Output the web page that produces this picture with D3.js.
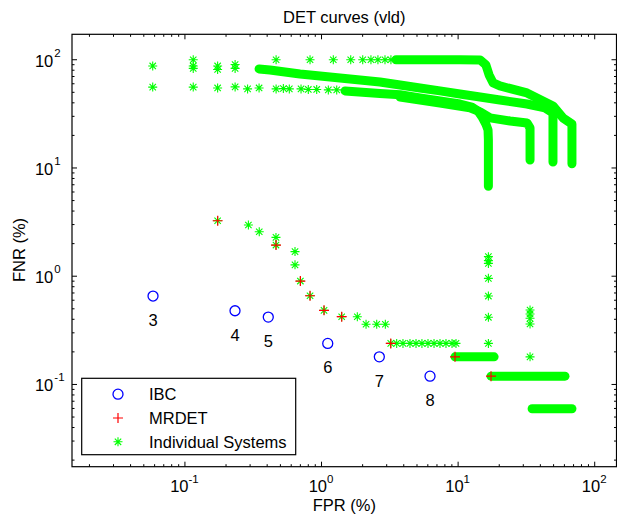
<!DOCTYPE html>
<html><head><meta charset="utf-8">
<script src="https://cdn.jsdelivr.net/npm/d3@7"></script>
<style>
html,body{margin:0;padding:0;background:#fff;}
svg{display:block;font-family:"Liberation Sans",Arial,Helvetica,sans-serif;}
</style></head><body>
<svg id="chart" width="617" height="518"></svg>
<script>
// ---------------- data ----------------
const ibcFPR = [0.0589, 0.2346, 0.411, 1.12, 2.672, 6.28];
const ibcFNR = [0.649, 0.4747, 0.415, 0.237, 0.178, 0.118];
const ibcLabels = ["3", "4", "5", "6", "7", "8"];

const mrdetFPR = [0.1752, 0.4684, 0.706, 0.831, 1.052, 1.417, 3.24, 9.57, 17.56];
const mrdetFNR = [3.22, 1.921, 0.893, 0.653, 0.479, 0.418, 0.237, 0.178, 0.118];

// individual systems: separate markers [FPR, FNR]
const topRowPts = [[0.116,99],[0.469,99],[0.831,99],[1.23,99],[1.65,99],[2.02,99],[2.32,99],[2.61,99],[2.94,99],[3.25,99]];
const upperStartPts = [[0.0586,86.7],[0.116,86.7],[0.116,82.3],[0.175,86.7],[0.175,80.5],[0.235,89.3],[0.235,82.3]];
const lowerStartPts = [[0.0586,55.3],[0.116,55.3],[0.175,54.3],[0.235,55.5],[0.290,53.2],[0.352,54.3],[0.469,53.2],[0.530,53.7],[0.586,53.2],[0.714,53.2],[0.807,52.6],[0.930,52.6],[1.131,52.1],[1.303,52.1]];
const lowCurvePts = [[0.175,3.22],[0.294,2.94],[0.353,2.55],[0.468,2.26],[0.468,1.92],[0.645,1.67],[0.645,1.26],[0.706,0.893],[0.831,0.653],[1.052,0.479],[1.417,0.418],[1.844,0.418],[2.136,0.356],[2.557,0.356],[2.957,0.356]];
const row237Pts = [[3.24,0.237],[3.58,0.237],[3.98,0.237],[4.48,0.237],[4.96,0.237],[5.48,0.237],[6.07,0.237],[6.72,0.237],[7.43,0.237],[8.22,0.237],[9.10,0.237],[9.73,0.237]];
const col17Pts = [[16.8,1.50],[16.8,1.38],[16.8,1.30],[16.8,0.946],[16.8,0.649],[16.8,0.413],[16.8,0.237]];
const col34Pts = [[33.9,0.482],[33.9,0.443],[33.9,0.404],[33.9,0.358],[33.9,0.178]];

// individual systems: dense runs of overlapping markers [FPR, FNR]
const bandTopCurve = [[3.54,99],[5.30,99],[7.43,99],[10.4,99],[14.6,98.5],[16.1,88.6],[17.0,71.6],[18.2,60.4],[20.4,56.7],[32.2,48.8],[49.9,37.0],[59.1,28.7],[68.7,25.2],[68.7,20],[68.7,15],[68.7,10.8]];
const bandUpperA = [[0.352,81.3],[0.423,79.6],[0.545,76.3],[0.702,73.1],[0.983,70.1],[1.377,67.2],[1.930,64.4],[2.703,61.7],[3.79,57.9],[5.30,54.3],[7.43,51.0],[10.4,47.8],[14.6,44.8],[20.4,42.0],[32.2,38.6],[43.6,35.5],[49.9,31.9],[49.9,25],[49.9,18],[49.9,11.25]];
const bandLowerA = [[1.499,51.0],[2.703,48.3],[3.79,47.0],[5.30,43.9],[7.43,41.2],[10.4,38.6],[12.7,36.2],[14.1,33.3],[15.1,29.3],[16.1,25.2],[16.7,22.2],[16.8,18],[16.8,12],[16.8,9],[16.8,6.7]];
const bandLowerB = [[3.79,44.8],[7.43,39.4],[12.3,35.5],[14.6,32.6],[17.3,28.7],[24.2,26.9],[32.2,25.8],[33.9,23.2],[33.9,18],[33.9,14],[33.9,11.7]];
const bandRow178 = [[9.57,0.178],[18.5,0.178]];
const bandRow118 = [[17.56,0.118],[61.1,0.118]];
const bandRow059 = [[35.1,0.059],[68.7,0.059]];

const xMajor = [0.1, 1, 10, 100];
const xExp = ["-1", "0", "1", "2"];
const yMajor = [0.1, 1, 10, 100];
const yExp = ["-1", "0", "1", "2"];
const xDomain = [0.01503, 145.6];
const yDomain = [0.0172, 170];

const legendNames = ["IBC", "MRDET", "Individual Systems"];

// ---------------- drawing ----------------
const svg = d3.select("#chart");
const L = 72, R = 616.5, T = 34.3, B = 466.7;
const FS = 16.5, SFS = 11.5;
const GREEN = "#00ff00", RED = "#ff0000", BLUE = "#0000ff";

const x = d3.scaleLog().domain(xDomain).range([L, R]);
const y = d3.scaleLog().domain(yDomain).range([B, T]);

const starPath = "M-4.5,0H4.5M0,-4.5V4.5M-3.2,-3.2L3.2,3.2M-3.2,3.2L3.2,-3.2";
const plusPath = "M-5,0H5M0,-5V5";

svg.append("rect").attr("width", 617).attr("height", 518).attr("fill", "#fff");

const plot = svg.append("g");
plot.append("defs").append("clipPath").attr("id", "clip")
  .append("rect").attr("x", L).attr("y", T).attr("width", R - L).attr("height", B - T);
const pg = plot.append("g").attr("clip-path", "url(#clip)");

// dense bands
const line = d3.line().x(d => x(d[0])).y(d => y(d[1]));
const bands = [bandTopCurve, bandUpperA, bandLowerA, bandLowerB, bandRow178, bandRow118, bandRow059];
pg.selectAll("path.band").data(bands).enter().append("path")
  .attr("class", "band").attr("d", line)
  .attr("fill", "none").attr("stroke", GREEN).attr("stroke-width", 9)
  .attr("stroke-linecap", "round").attr("stroke-linejoin", "round");

// sparse stars
const sparse = [].concat(topRowPts, upperStartPts, lowerStartPts, lowCurvePts, row237Pts, col17Pts, col34Pts);
pg.selectAll("path.star").data(sparse).enter().append("path")
  .attr("class", "star").attr("d", starPath)
  .attr("transform", d => `translate(${x(d[0])},${y(d[1])})`)
  .attr("fill", "none").attr("stroke", GREEN).attr("stroke-width", 1.1);

// MRDET
pg.selectAll("path.plus").data(mrdetFPR).enter().append("path")
  .attr("class", "plus").attr("d", plusPath)
  .attr("transform", (d, i) => `translate(${x(d)},${y(mrdetFNR[i])})`)
  .attr("fill", "none").attr("stroke", RED).attr("stroke-width", 1.2);

// IBC
pg.selectAll("circle.ibc").data(ibcFPR).enter().append("circle")
  .attr("class", "ibc").attr("cx", d => x(d)).attr("cy", (d, i) => y(ibcFNR[i]))
  .attr("r", 5).attr("fill", "none").attr("stroke", BLUE).attr("stroke-width", 1.3);

svg.selectAll("text.ibcl").data(ibcLabels).enter().append("text")
  .attr("class", "ibcl").attr("x", (d, i) => x(ibcFPR[i])).attr("y", (d, i) => y(ibcFNR[i]) + 30)
  .attr("text-anchor", "middle").attr("font-size", FS).attr("fill", "#000").text(d => d);

// axes (ticks inward on all four sides)
const allX = x.ticks().filter(v => v >= xDomain[0] && v <= xDomain[1]);
const allY = y.ticks().filter(v => v >= yDomain[0] && v <= yDomain[1]);
const isMajor = v => Math.abs(Math.log10(v) - Math.round(Math.log10(v))) < 1e-9;
const xMinor = allX.filter(v => !isMajor(v));
const yMinor = allY.filter(v => !isMajor(v));

function addAxis(axisFn, scale, vals, size, transform) {
  const g = svg.append("g").attr("transform", transform)
    .call(axisFn(scale).tickValues(vals).tickSize(-size).tickSizeOuter(0).tickFormat(""));
  g.select(".domain").remove();
  g.selectAll(".tick line").attr("stroke", "#000").attr("stroke-width", 1);
}
addAxis(d3.axisBottom, x, xMajor, 5, `translate(0,${B})`);
addAxis(d3.axisBottom, x, xMinor, 2.5, `translate(0,${B})`);
addAxis(d3.axisTop, x, xMajor, 5, `translate(0,${T})`);
addAxis(d3.axisTop, x, xMinor, 2.5, `translate(0,${T})`);
addAxis(d3.axisLeft, y, yMajor, 5, `translate(${L},0)`);
addAxis(d3.axisLeft, y, yMinor, 2.5, `translate(${L},0)`);
addAxis(d3.axisRight, y, yMajor, 5, `translate(${R},0)`);
addAxis(d3.axisRight, y, yMinor, 2.5, `translate(${R},0)`);

svg.append("rect").attr("x", L).attr("y", T).attr("width", R - L).attr("height", B - T)
  .attr("fill", "none").attr("stroke", "#000").attr("stroke-width", 1.2);

// tick labels
xMajor.forEach((v, i) => {
  const t = svg.append("text").attr("x", x(v)).attr("y", 492).attr("text-anchor", "middle")
    .attr("font-size", FS).attr("fill", "#000");
  t.append("tspan").text("10");
  t.append("tspan").attr("font-size", SFS).attr("dy", -9.5).text(xExp[i]);
});
yMajor.forEach((v, i) => {
  svg.append("text").attr("x", 53.3).attr("y", y(v) + 7.3).attr("text-anchor", "end")
    .attr("font-size", FS).attr("fill", "#000").text("10");
  svg.append("text").attr("x", 54.3).attr("y", y(v) - 2.5).attr("text-anchor", "start")
    .attr("font-size", SFS).attr("fill", "#000").text(yExp[i]);
});

// title and axis labels
svg.append("text").attr("x", (L + R) / 2).attr("y", 22.5).attr("text-anchor", "middle")
  .attr("font-size", FS).attr("fill", "#000").text("DET curves (vld)");
svg.append("text").attr("x", (L + R) / 2).attr("y", 511).attr("text-anchor", "middle")
  .attr("font-size", FS).attr("fill", "#000").text("FPR (%)");
svg.append("text").attr("transform", `translate(25,250) rotate(-90)`).attr("text-anchor", "middle")
  .attr("font-size", FS).attr("fill", "#000").text("FNR (%)");

// legend
const lg = svg.append("g");
lg.append("rect").attr("x", 81.7).attr("y", 378.3).attr("width", 214).attr("height", 76.4)
  .attr("fill", "#fff").attr("stroke", "#000").attr("stroke-width", 1.2);
const rowsY = [394.2, 418, 441.8];
lg.append("circle").attr("cx", 118).attr("cy", rowsY[0]).attr("r", 5)
  .attr("fill", "none").attr("stroke", BLUE).attr("stroke-width", 1.3);
lg.append("path").attr("d", plusPath).attr("transform", `translate(118,${rowsY[1]})`)
  .attr("fill", "none").attr("stroke", RED).attr("stroke-width", 1.2);
lg.append("path").attr("d", starPath).attr("transform", `translate(118,${rowsY[2]})`)
  .attr("fill", "none").attr("stroke", GREEN).attr("stroke-width", 1.1);
legendNames.forEach((n, i) => {
  lg.append("text").attr("x", 149).attr("y", rowsY[i] + 6).attr("font-size", FS)
    .attr("fill", "#000").text(n);
});
</script>
</body></html>
